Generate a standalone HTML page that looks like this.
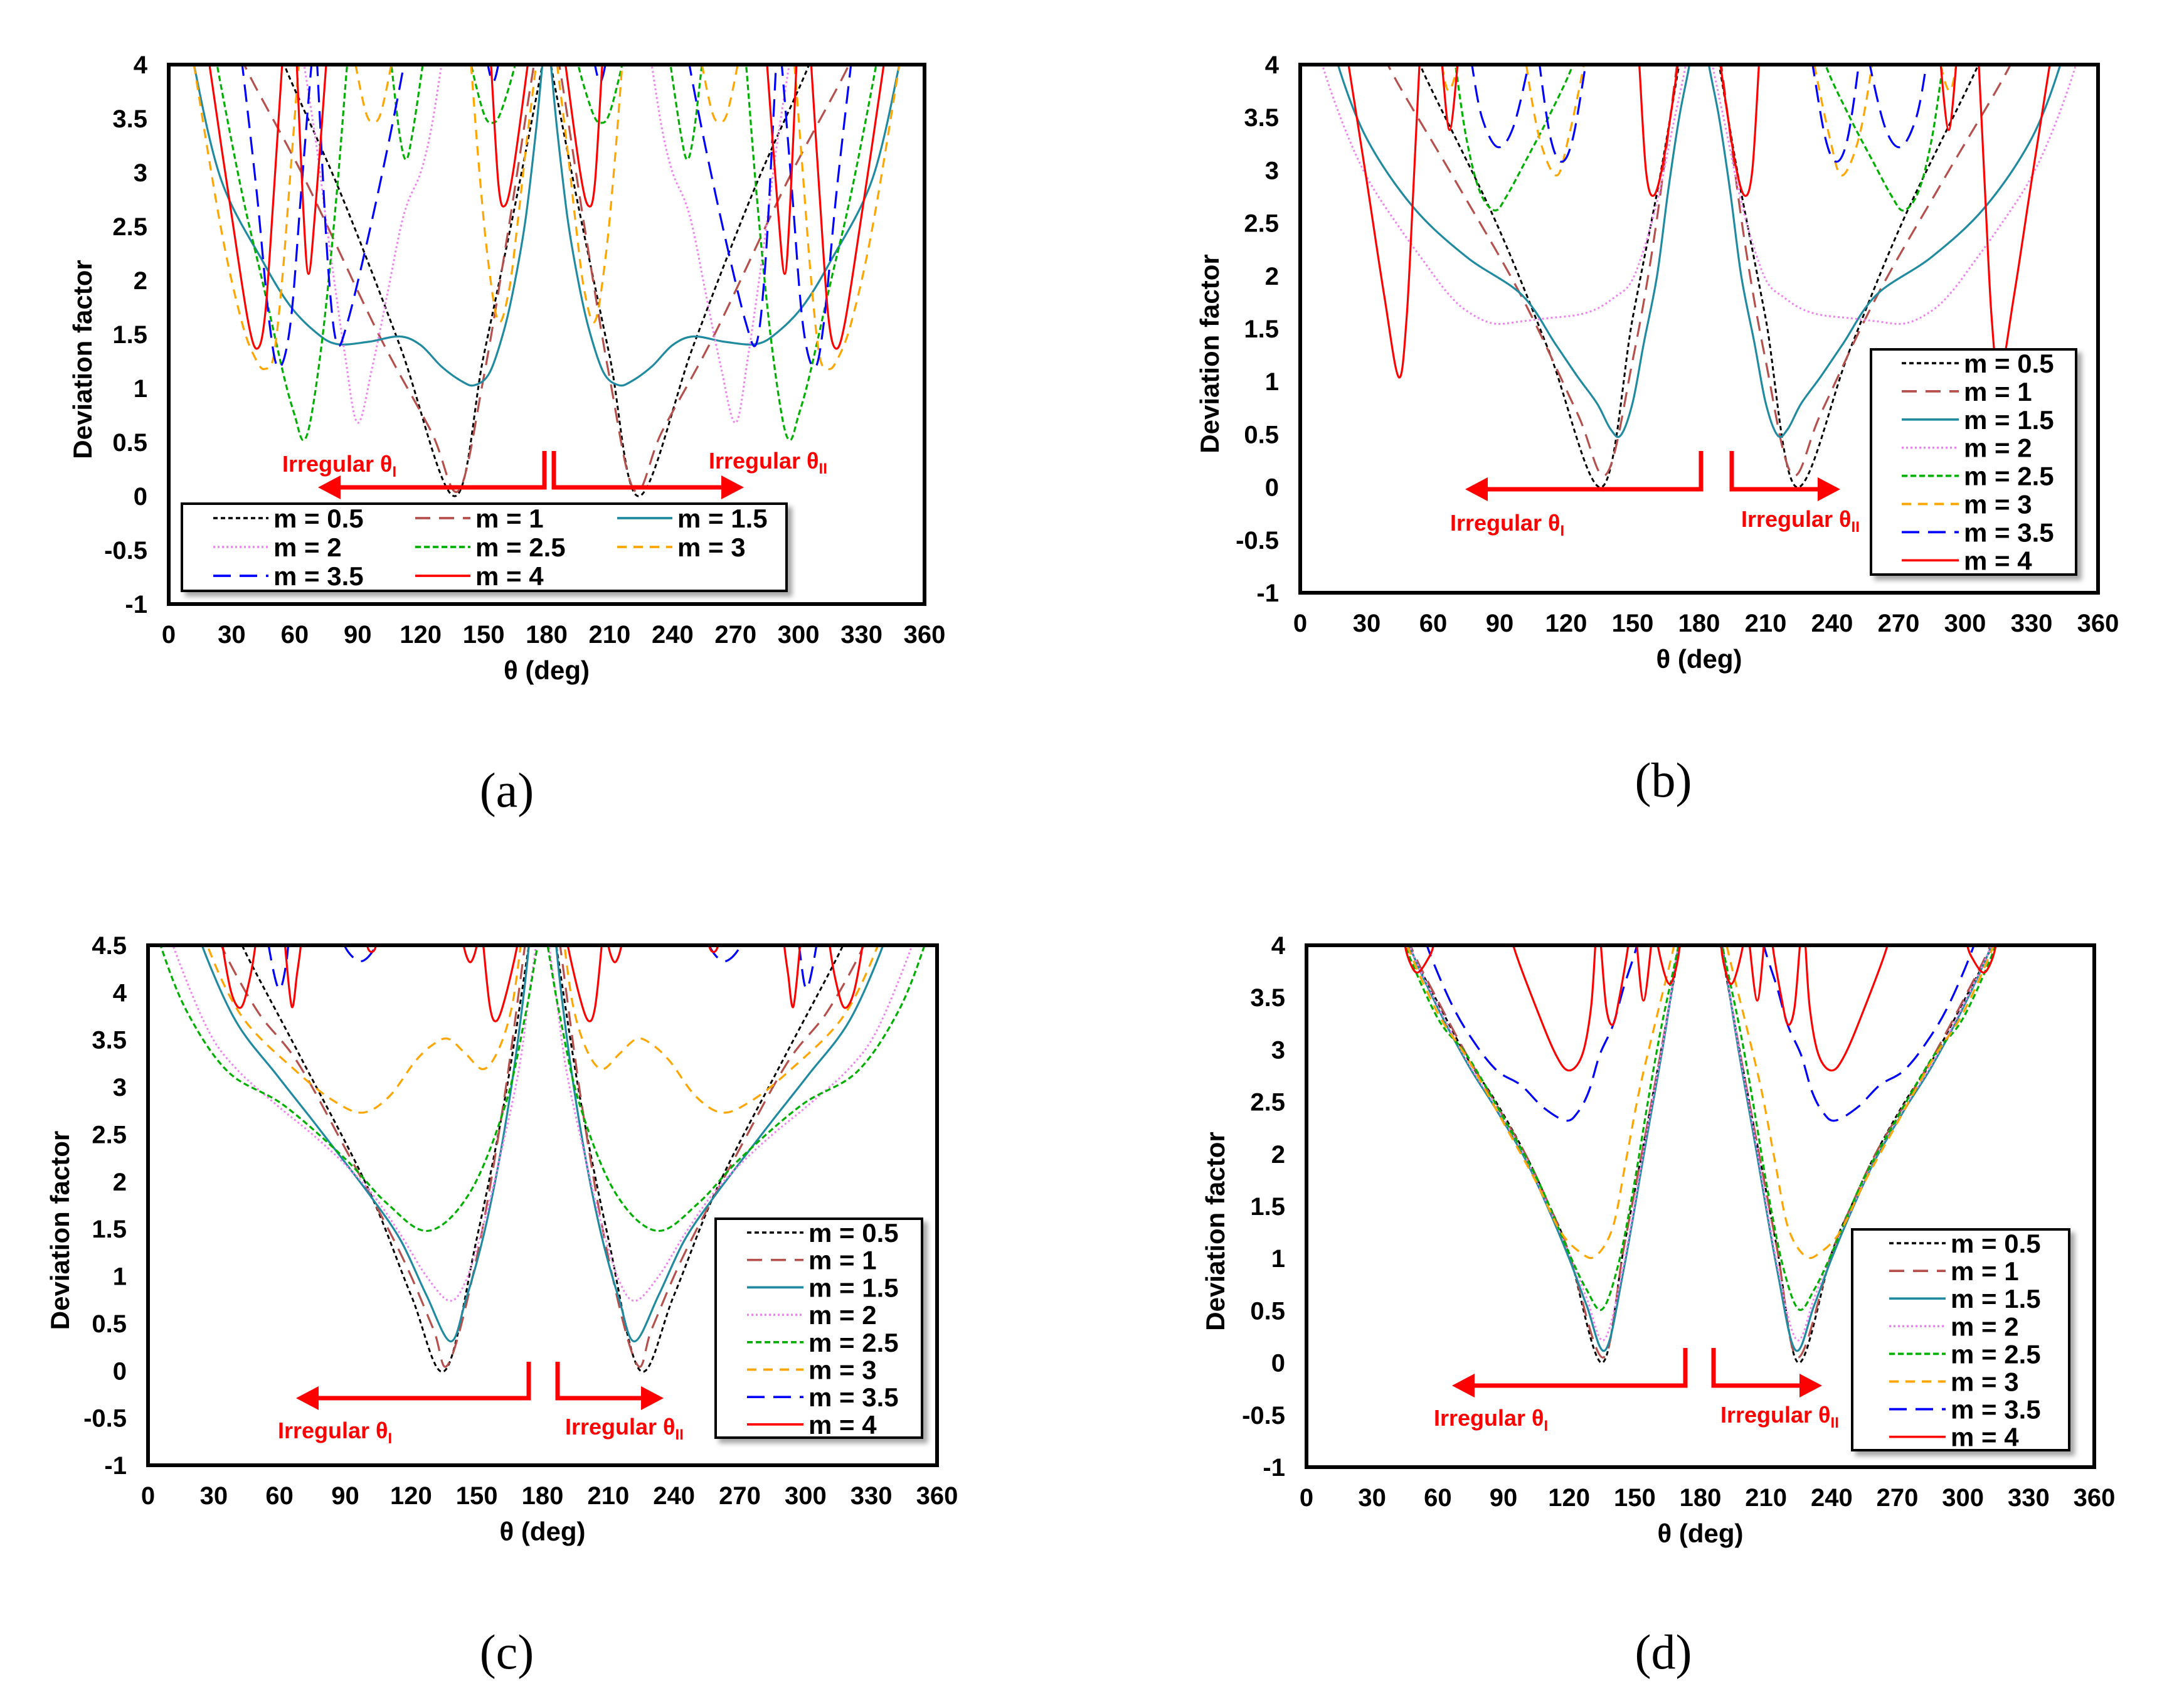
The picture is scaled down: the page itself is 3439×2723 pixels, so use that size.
<!DOCTYPE html>
<html>
<head>
<meta charset="utf-8">
<style>
  html,body{margin:0;padding:0;background:#fff;}
  svg{display:block;}
  .tick{font-family:"Liberation Sans",Arial,sans-serif;font-weight:bold;font-size:40px;fill:#000;}
  .axt{font-family:"Liberation Sans",Arial,sans-serif;font-weight:bold;font-size:42px;fill:#000;}
  .leg{font-family:"Liberation Sans",Arial,sans-serif;font-weight:bold;font-size:42px;fill:#000;}
  .irr{font-family:"Liberation Sans",Arial,sans-serif;font-weight:bold;font-size:36px;fill:#ff0000;}
  .plab{font-family:"Liberation Serif","Times New Roman",serif;font-size:78px;fill:#000;}
</style>
</head>
<body>
<svg id="fig" width="3439" height="2723" viewBox="0 0 3439 2723" xmlns="http://www.w3.org/2000/svg">
  <defs>
    <filter id="shadow" x="-5%" y="-5%" width="115%" height="120%">
      <feDropShadow dx="7" dy="7" stdDeviation="4" flood-color="#000" flood-opacity="0.35"/>
    </filter>
  </defs>
</svg>
<script>
// ---------- shared axis data ----------
const xTicks = [0,30,60,90,120,150,180,210,240,270,300,330,360];
const yTicksA = [-1,-0.5,0,0.5,1,1.5,2,2.5,3,3.5,4];
const yTicksC = [-1,-0.5,0,0.5,1,1.5,2,2.5,3,3.5,4,4.5];
const seriesNames = ["m = 0.5","m = 1","m = 1.5","m = 2","m = 2.5","m = 3","m = 3.5","m = 4"];

// ---------- panel (a) ----------
const a_m05 = [[52,4.3],[55,4],[81,2.85],[110,1.4],[136,0],[150,1.3],[165,2.7],[178,4],[180,4.3],[182,4],[195,2.7],[210,1.3],[224,0],[250,1.4],[279,2.85],[305,4],[308,4.3]];
const a_m1 = [[33,4.3],[36,4],[65,2.93],[100,1.5],[125,0.6],[138,0.05],[150,1.1],[162,2.5],[174,4],[178,4.3],null,[182,4.3],[186,4],[198,2.5],[210,1.1],[222,0.05],[235,0.6],[260,1.5],[295,2.93],[324,4],[327,4.3]];
const a_m15 = [[10,4.3],[12,4],[25,2.93],[45,2.17],[58,1.76],[70,1.52],[80,1.41],[95,1.43],[110,1.48],[120,1.4],[130,1.2],[140,1.06],[146,1.03],[153,1.15],[160,1.56],[165,2.0],[170,2.57],[175,3.4],[178,4],[180,4.3],[182,4],[185,3.4],[190,2.57],[195,2.0],[200,1.56],[207,1.15],[214,1.03],[220,1.06],[230,1.2],[240,1.4],[250,1.48],[265,1.43],[280,1.41],[290,1.52],[302,1.76],[315,2.17],[335,2.93],[348,4],[350,4.3]];
const a_m2 = [[62,4.3],[70,3.3],[76,2.4],[84,1.3],[90,0.68],[97,1.2],[104,1.86],[110,2.45],[114,2.73],[120,3.0],[125,3.4],[130,4],[133,4.3],null,[227,4.3],[230,4],[235,3.4],[240,3.0],[246,2.73],[250,2.45],[256,1.86],[263,1.2],[270,0.68],[276,1.3],[284,2.4],[290,3.3],[298,4.3]];
const a_m25 = [[21,4.3],[23,4],[35,2.8],[45,1.96],[55,1.1],[60,0.75],[64,0.52],[68,0.75],[74,1.6],[80,2.8],[85,4],[87,4.3],null,[104,4.3],[106,4],[110,3.35],[113,3.12],[116,3.35],[121,4],[123,4.3],null,[141,4.3],[144,4],[150,3.55],[154,3.46],[158,3.55],[165,4],[167,4.3],null,[193,4.3],[195,4],[202,3.55],[206,3.46],[210,3.55],[216,4],[219,4.3],null,[237,4.3],[239,4],[244,3.35],[247,3.12],[250,3.35],[254,4],[256,4.3],null,[273,4.3],[275,4],[280,2.8],[286,1.6],[292,0.75],[296,0.52],[300,0.75],[305,1.1],[315,1.96],[325,2.8],[337,4],[339,4.3]];
const a_m3 = [[10,4.3],[12,4],[25,2.47],[35,1.6],[42,1.25],[46,1.18],[50,1.3],[54,2],[58,3],[62,4],[64,4.3],null,[87,4.3],[89,4],[94,3.55],[97.5,3.47],[101,3.55],[106,4],[108,4.3],null,[143,4.3],[144,4],[148,3.0],[152,2.2],[157,1.62],[162,1.9],[166,2.5],[170,3.2],[175,4],[177,4.3],null,[183,4.3],[185,4],[190,3.2],[194,2.5],[198,1.9],[203,1.62],[208,2.2],[212,3.0],[216,4],[217,4.3],null,[252,4.3],[254,4],[259,3.55],[262.5,3.47],[266,3.55],[271,4],[273,4.3],null,[296,4.3],[298,4],[302,3],[306,2],[310,1.3],[314,1.18],[318,1.25],[325,1.6],[335,2.47],[348,4],[350,4.3]];
const a_m35 = [[33,4.3],[35,4],[42,2.8],[48,1.6],[52.5,1.19],[58,1.6],[63,2.8],[68,4],[70,4.3],null,[70,4.3],[72,3.5],[76,2.1],[80,1.42],[85,1.6],[95,2.4],[105,3.3],[112,4],[114,4.3],null,[150,4.3],[152,4],[154.5,3.84],[157,4],[159,4.3],null,[201,4.3],[203,4],[205.5,3.84],[208,4],[210,4.3],null,[246,4.3],[248,4],[255,3.3],[265,2.4],[275,1.6],[280,1.42],[284,2.1],[288,3.5],[290,4.3],null,[290,4.3],[292,4],[297,2.8],[302,1.6],[307.5,1.19],[312,1.6],[318,2.8],[325,4],[327,4.3]];
const a_m4 = [[18,4.3],[19.4,4],[30,2.6],[38,1.6],[42.4,1.37],[46,1.7],[50,2.8],[54,4],[55,4.3],null,[60,4.3],[61,4],[64,2.7],[66.6,2.06],[70,2.7],[75,4],[76,4.3],null,[152,4.3],[153.5,4],[157,2.9],[160,2.69],[164,3.0],[171,4],[173,4.3],null,[187,4.3],[189,4],[196,3.0],[200,2.69],[203,2.9],[206.5,4],[208,4.3],null,[284,4.3],[285,4],[290,2.7],[293.4,2.06],[296,2.7],[299,4],[300,4.3],null,[305,4.3],[306,4],[310,2.8],[314,1.7],[317.6,1.37],[322,1.6],[330,2.6],[340.6,4],[342,4.3]];

// ---------- panel (b) ----------
const b_m05 = [[51,4.3],[54,4],[87,2.57],[112,1.3],[136,0],[150,1.6],[162,2.9],[171,4],[174,4.3],null,[186,4.3],[189,4],[198,2.9],[210,1.6],[224,0],[248,1.3],[273,2.57],[306,4],[309,4.3]];
const b_m1 = [[37,4.3],[39.5,4],[70,2.9],[100,1.8],[125,0.7],[138,0.12],[150,1.2],[160,2.4],[170,4],[172,4.3],null,[188,4.3],[190,4],[200,2.4],[210,1.2],[222,0.12],[235,0.7],[260,1.8],[290,2.9],[320.5,4],[323,4.3]];
const b_m15 = [[15,4.3],[17,4],[30,3.3],[51,2.65],[75,2.18],[100,1.82],[115,1.36],[125,1.05],[134,0.79],[140,0.55],[144.6,0.49],[150,0.8],[155,1.36],[161,2.0],[166,2.8],[171,3.5],[175.6,4],[177,4.3],null,[183,4.3],[184.4,4],[189,3.5],[194,2.8],[199,2.0],[205,1.36],[210,0.8],[215.4,0.49],[220,0.55],[226,0.79],[235,1.05],[245,1.36],[260,1.82],[285,2.18],[309,2.65],[330,3.3],[343,4],[345,4.3]];
const b_m2 = [[8,4.3],[10,4],[20,3.4],[31,2.9],[45,2.45],[56,2.13],[66,1.85],[75,1.67],[87,1.55],[100,1.57],[112,1.6],[125,1.63],[134,1.69],[142,1.8],[149,1.93],[155,2.25],[161.6,2.75],[168,3.4],[174,4],[176,4.3],null,[184,4.3],[186,4],[192,3.4],[198.4,2.75],[205,2.25],[211,1.93],[218,1.8],[226,1.69],[235,1.63],[248,1.6],[260,1.57],[273,1.55],[285,1.67],[294,1.85],[304,2.13],[315,2.45],[329,2.9],[340,3.4],[350,4],[352,4.3]];
const b_m25 = [[68,4.3],[70,4],[75,3.3],[81,2.8],[87.7,2.62],[93,2.75],[102,3.1],[112,3.5],[123,4],[125,4.3],null,[235,4.3],[237,4],[248,3.5],[258,3.1],[267,2.75],[272.3,2.62],[279,2.8],[285,3.3],[290,4],[292,4.3]];
const b_m3 = [[63,4.3],[64,4],[67,3.75],[71,4],[72,4.3],null,[101,4.3],[102,4],[108,3.3],[115.6,2.95],[121,3.3],[128,4],[130,4.3],null,[230,4.3],[232,4],[239,3.3],[244.4,2.95],[252,3.3],[258,4],[259,4.3],null,[288,4.3],[289,4],[293,3.75],[296,4],[297,4.3]];
const b_m35 = [[76,4.3],[77.5,4],[82,3.5],[89,3.22],[96,3.4],[103,4],[105,4.3],null,[107,4.3],[108,4],[113,3.3],[118,3.08],[123,3.3],[128.8,4],[131,4.3],null,[229,4.3],[231.2,4],[237,3.3],[242,3.08],[247,3.3],[252,4],[253,4.3],null,[255,4.3],[257,4],[264,3.4],[271,3.22],[278,3.5],[282.5,4],[284,4.3]];
const b_m4 = [[20,4.3],[21.8,4],[30,2.9],[38,1.8],[44.5,1.04],[48,1.6],[51,2.8],[53.8,4],[55,4.3],null,[63,4.3],[64,4],[67.4,3.38],[71,4],[72,4.3],null,[152,4.3],[153,4],[156,3.0],[159.5,2.76],[164,3.1],[170.4,4],[172,4.3],null,[188,4.3],[189.6,4],[196,3.1],[200.5,2.76],[204,3.0],[207,4],[208,4.3],null,[288,4.3],[289,4],[292.6,3.38],[296,4],[297,4.3],null,[305,4.3],[306.2,4],[309,2.8],[312,1.6],[315.5,1.04],[322,1.8],[330,2.9],[338.2,4],[340,4.3]];

// ---------- panel (c) ----------
const c_m05 = [[40,4.8],[42.9,4.5],[70,3.3],[100,1.95],[120,0.8],[135.4,0],[150,1.4],[163,2.9],[173.8,4.5],[176,4.8],null,[184,4.8],[186.2,4.5],[197,2.9],[210,1.4],[224.6,0],[240,0.8],[260,1.95],[290,3.3],[317.1,4.5],[320,4.8]];
const c_m1 = [[31,4.8],[33.4,4.5],[50,3.8],[68,3.27],[90,2.35],[115,1.25],[130,0.45],[137,0.07],[150,1.2],[162,2.8],[172,4.5],[174,4.8],null,[186,4.8],[188,4.5],[198,2.8],[210,1.2],[223,0.07],[230,0.45],[245,1.25],[270,2.35],[292,3.27],[310,3.8],[326.6,4.5],[329,4.8]];
const c_m15 = [[22,4.8],[24.6,4.5],[40,3.7],[58.7,3.13],[75,2.65],[90,2.2],[103,1.8],[115.5,1.37],[127,0.8],[138,0.31],[145,0.75],[153,1.42],[160,2.2],[166,3.04],[171,3.9],[173.8,4.5],[175,4.8],null,[185,4.8],[186.2,4.5],[189,3.9],[194,3.04],[200,2.2],[207,1.42],[215,0.75],[222,0.31],[233,0.8],[244.5,1.37],[257,1.8],[270,2.2],[285,2.65],[301.3,3.13],[320,3.7],[335.4,4.5],[338,4.8]];
const c_m2 = [[9,4.8],[11.4,4.5],[27,3.62],[40,3.2],[58.7,2.81],[75,2.5],[90,2.18],[103,1.85],[115.5,1.43],[127,1.0],[137.6,0.74],[145,0.95],[153,1.54],[160,2.2],[169,3.16],[174,4.0],[177,4.5],[178,4.8],null,[182,4.8],[183,4.5],[186,4.0],[191,3.16],[200,2.2],[207,1.54],[215,0.95],[222.4,0.74],[233,1.0],[244.5,1.43],[257,1.85],[270,2.18],[285,2.5],[301.3,2.81],[320,3.2],[333,3.62],[348.6,4.5],[351,4.8]];
const c_m25 = [[3,4.8],[5.7,4.5],[17.7,3.8],[36.6,3.16],[61.8,2.81],[90,2.24],[109,1.77],[128,1.48],[147,1.89],[163,2.81],[172,3.74],[177,4.4],[180,4.8],[183,4.4],[188,3.74],[197,2.81],[213,1.89],[232,1.48],[251,1.77],[270,2.24],[298.2,2.81],[323.4,3.16],[342.3,3.8],[354.3,4.5],[357,4.8]];
const c_m3 = [[25,4.8],[27,4.5],[43,3.74],[68,3.16],[85,2.85],[98,2.73],[110,2.9],[121.8,3.27],[130,3.45],[137,3.51],[145,3.35],[153,3.19],[160,3.4],[166,3.85],[170,4.5],[171,4.8],null,[189,4.8],[190,4.5],[194,3.85],[200,3.4],[207,3.19],[215,3.35],[223,3.51],[230,3.45],[238.2,3.27],[250,2.9],[262,2.73],[275,2.85],[292,3.16],[317,3.74],[333,4.5],[335,4.8]];
const c_m35 = [[54,4.8],[55,4.5],[59.6,4.04],[63,4.3],[65,4.8],null,[88,4.8],[89.6,4.5],[97,4.33],[104,4.5],[106,4.8],null,[254,4.8],[256,4.5],[263,4.33],[270.4,4.5],[272,4.8],null,[295,4.8],[297,4.5],[300.4,4.04],[305,4.5],[306,4.8]];
const c_m4 = [[33,4.8],[34,4.5],[38,4.0],[42.3,3.84],[46,4.1],[49,4.5],[50,4.8],null,[61.5,4.8],[62.5,4.5],[65.6,3.85],[68,4.2],[69.7,4.5],[70.5,4.8],null,[99,4.8],[100,4.5],[102,4.43],[104,4.5],[105,4.8],null,[143,4.8],[144,4.5],[147,4.32],[150,4.5],[151,4.8],null,[152,4.8],[153,4.5],[156,3.85],[159,3.7],[163,3.95],[168.5,4.5],[170,4.8],null,[190,4.8],[191.5,4.5],[197,3.95],[201,3.7],[204,3.85],[207,4.5],[208,4.8],null,[209,4.8],[210,4.5],[213,4.32],[216,4.5],[217,4.8],null,[255,4.8],[256,4.5],[258,4.43],[260,4.5],[261,4.8],null,[289.5,4.8],[290.3,4.5],[292,4.2],[294.4,3.85],[297.5,4.5],[298.5,4.8],null,[310,4.8],[311,4.5],[314,4.1],[317.7,3.84],[322,4.0],[326,4.5],[327,4.8]];

// ---------- panel (d) ----------
const d_m05 = [[44,4.3],[46.7,4],[60,3.45],[74,2.9],[86,2.52],[100,2.0],[110,1.55],[120,1.05],[135,0],[145,1.1],[155,2.2],[163,3.1],[170.7,4],[173,4.3],null,[187,4.3],[189.3,4],[197,3.1],[205,2.2],[215,1.1],[225,0],[240,1.05],[250,1.55],[260,2.0],[274,2.52],[286,2.9],[300,3.45],[313.3,4],[316,4.3]];
const d_m1 = [[45,4.3],[47.5,4],[60,3.47],[74,2.92],[86,2.5],[100,2.0],[110,1.55],[120,1.05],[135.5,0.05],[145,1.1],[155,2.2],[163,3.1],[170.5,4],[173,4.3],null,[187,4.3],[189.5,4],[197,3.1],[205,2.2],[215,1.1],[224.5,0.05],[240,1.05],[250,1.55],[260,2.0],[274,2.5],[286,2.92],[300,3.47],[312.5,4],[315,4.3]];
const d_m15 = [[44,4.3],[47,4],[60,3.4],[74,2.85],[86,2.45],[100,1.95],[110,1.5],[120,1.0],[128,0.55],[136.5,0.12],[145,0.9],[155,2.1],[163,3.05],[170,4],[172,4.3],null,[188,4.3],[190,4],[197,3.05],[205,2.1],[215,0.9],[223.5,0.12],[232,0.55],[240,1.0],[250,1.5],[260,1.95],[274,2.45],[286,2.85],[300,3.4],[313,4],[316,4.3]];
const d_m2 = [[44,4.3],[47,4],[60,3.42],[74,2.87],[86,2.47],[100,1.97],[110,1.52],[120,1.05],[128,0.62],[136,0.22],[145,0.95],[155,2.15],[163,3.08],[170,4],[172,4.3],null,[188,4.3],[190,4],[197,3.08],[205,2.15],[215,0.95],[224,0.22],[232,0.62],[240,1.05],[250,1.52],[260,1.97],[274,2.47],[286,2.87],[300,3.42],[313,4],[316,4.3]];
const d_m25 = [[42,4.3],[45,4],[60,3.3],[73.5,2.94],[90,2.35],[105,1.78],[115,1.3],[121,1.0],[128,0.7],[135,0.51],[142,0.9],[149,1.62],[156,2.5],[162,3.2],[170,4],[172,4.3],null,[188,4.3],[190,4],[198,3.2],[204,2.5],[211,1.62],[218,0.9],[225,0.51],[232,0.7],[239,1.0],[245,1.3],[255,1.78],[270,2.35],[286.5,2.94],[300,3.3],[315,4],[318,4.3]];
const d_m3 = [[43,4.3],[46,4],[60,3.35],[74,2.9],[90,2.3],[105,1.73],[116,1.26],[125,1.06],[132,1.02],[140,1.3],[146,1.94],[152,2.6],[158.7,3.2],[168,4],[170,4.3],null,[190,4.3],[192,4],[201.3,3.2],[208,2.6],[214,1.94],[220,1.3],[228,1.02],[235,1.06],[244,1.26],[255,1.73],[270,2.3],[286,2.9],[300,3.35],[314,4],[317,4.3]];
const d_m35 = [[52,4.3],[55,4],[66,3.45],[76,3.09],[87,2.8],[98,2.66],[108,2.45],[118.5,2.32],[124,2.4],[129,2.6],[134,2.95],[140,3.23],[145,3.6],[151,4],[153,4.3],null,[207,4.3],[209,4],[215,3.6],[220,3.23],[226,2.95],[231,2.6],[236,2.4],[241.5,2.32],[252,2.45],[262,2.66],[273,2.8],[284,3.09],[294,3.45],[305,4],[308,4.3]];
const d_m4 = [[44,4.3],[45,4],[48,3.8],[51,3.74],[55,3.85],[58,4],[59,4.3],null,[93,4.3],[94.5,4],[105,3.4],[114,2.95],[120,2.8],[126,2.95],[130,3.4],[132,4],[133,4.3],null,[133,4.3],[134.5,4],[137,3.4],[140,3.24],[143,3.5],[147,4],[148,4.3],null,[150,4.3],[151,4],[154,3.47],[157.5,4],[158.5,4.3],null,[159.5,4.3],[160.5,4],[165.7,3.63],[170,3.9],[171,4.3],null,[189,4.3],[190,3.9],[194.3,3.63],[199.5,4],[200.5,4.3],null,[201.5,4.3],[202.5,4],[206,3.47],[209,4],[210,4.3],null,[212,4.3],[213,4],[217,3.5],[220,3.24],[223,3.4],[225.5,4],[227,4.3],null,[227,4.3],[228,4],[230,3.4],[234,2.95],[240,2.8],[246,2.95],[255,3.4],[265.5,4],[267,4.3],null,[301,4.3],[302,4],[305,3.85],[309,3.74],[312,3.8],[315,4],[316,4.3]];

// ---------- styling (not data) ----------
const styles = [
  {c:"#000000", d:"7 5", w:3},
  {c:"#b5504c", d:"24 14", w:3.2},
  {c:"#1f8aa0", d:"", w:3.2},
  {c:"#ee82ee", d:"3 4", w:3},
  {c:"#00b000", d:"9 5", w:3.2},
  {c:"#ffa500", d:"15 11", w:3.2},
  {c:"#0000ff", d:"28 14", w:3.2},
  {c:"#ff0000", d:"", w:3.2}
];

const NS = "http://www.w3.org/2000/svg";
const svg = document.getElementById('fig');
function mk(tag, attrs, parent){
  const e = document.createElementNS(NS, tag);
  for (const k in attrs) e.setAttribute(k, attrs[k]);
  (parent||svg).appendChild(e);
  return e;
}

// Catmull-Rom smoothing of a list of pixel points
function smoothPath(pts){
  if (pts.length < 2) return "";
  let d = "M" + pts[0][0].toFixed(1) + "," + pts[0][1].toFixed(1);
  for (let i = 0; i < pts.length - 1; i++){
    const p0 = pts[i-1] || pts[i], p1 = pts[i], p2 = pts[i+1], p3 = pts[i+2] || p2;
    const t = 0.5/3;
    const c1x = p1[0] + (p2[0]-p0[0])*t, c1y = p1[1] + (p2[1]-p0[1])*t;
    const c2x = p2[0] - (p3[0]-p1[0])*t, c2y = p2[1] - (p3[1]-p1[1])*t;
    d += "C" + c1x.toFixed(1)+","+c1y.toFixed(1)+" "+c2x.toFixed(1)+","+c2y.toFixed(1)+" "+p2[0].toFixed(1)+","+p2[1].toFixed(1);
  }
  return d;
}

function drawPanel(p){
  const g = mk('g', {});
  
  
  const xs = v => p.L + (v/360)*(p.R - p.L);
  const ys = v => p.B - (v - p.ymin)/(p.ymax - p.ymin)*(p.B - p.T);
  const cp = mk('clipPath', {id:'clip-'+p.id}, g);
  mk('rect', {x:p.L, y:p.T, width:p.R-p.L, height:p.B-p.T}, cp);
  const sg = mk('g', {'clip-path':'url(#clip-'+p.id+')'}, g);
  p.series.forEach((s, i) => {
    let d = ""; let seg = [];
    s.forEach(pt => {
      if (pt === null) { d += smoothPath(seg); seg = []; return; }
      seg.push([xs(pt[0]), ys(pt[1])]);
    });
    d += smoothPath(seg);
    const st = styles[i];
    const path = mk('path', {d:d, fill:'none', stroke:st.c, 'stroke-width':st.w, 'stroke-dasharray':st.d, 'stroke-linejoin':'round'}, sg);
    
    
  });
  const fr = mk('rect', {x:p.L, y:p.T, width:p.R-p.L, height:p.B-p.T, fill:'none', stroke:'#000', 'stroke-width':6}, g);
  
  
  xTicks.forEach(t => {
    const tx = mk('text', {x:xs(t), y:p.B+62, 'text-anchor':'middle', class:'tick'}, g);
    tx.textContent = t;
    
    
  });
  p.yTicks.forEach(t => {
    const ty = mk('text', {x:p.L-34, y:ys(t)+14, 'text-anchor':'end', class:'tick'}, g);
    ty.textContent = t;
    
    
  });
  const xt = mk('text', {x:(p.L+p.R)/2, y:p.B+120, 'text-anchor':'middle', class:'axt'}, g);
  xt.textContent = "θ (deg)";
  
  
  const yt = mk('text', {x:0, y:0, 'text-anchor':'middle', class:'axt', transform:'translate('+(p.yLabX)+','+((p.T+p.B)/2+40)+') rotate(-90)'}, g);
  yt.textContent = "Deviation factor";
  
  
  const ag = mk('g', {}, g);
  
  
  const A = p.arrow;
  mk('polyline', {points: A.lv+','+A.top+' '+A.lv+','+A.y+' '+(A.lt+34)+','+A.y, fill:'none', stroke:'#ff0000', 'stroke-width':7}, ag);
  mk('polygon', {points: A.lt+','+A.y+' '+(A.lt+36)+','+(A.y-19)+' '+(A.lt+36)+','+(A.y+19), fill:'#ff0000'}, ag);
  mk('polyline', {points: A.rv+','+A.top+' '+A.rv+','+A.y+' '+(A.rt-34)+','+A.y, fill:'none', stroke:'#ff0000', 'stroke-width':7}, ag);
  mk('polygon', {points: A.rt+','+A.y+' '+(A.rt-36)+','+(A.y-19)+' '+(A.rt-36)+','+(A.y+19), fill:'#ff0000'}, ag);
  const t1 = mk('text', {x:A.t1x, y:A.t1y, class:'irr'}, ag);
  t1.innerHTML = 'Irregular θ<tspan font-size="24" dy="8">I</tspan>';
  
  
  const t2 = mk('text', {x:A.t2x, y:A.t2y, class:'irr'}, ag);
  t2.innerHTML = 'Irregular θ<tspan font-size="24" dy="8">II</tspan>';
  
  
  const lg = mk('g', {}, g);
  
  
  const Lg = p.legend;
  mk('rect', {x:Lg.x, y:Lg.y, width:Lg.w, height:Lg.h, fill:'#fff', stroke:'#000', 'stroke-width':4, filter:'url(#shadow)'}, lg);
  seriesNames.forEach((n, i) => {
    const col = Lg.cols ? i % Lg.cols : 0;
    const row = Lg.cols ? Math.floor(i / Lg.cols) : i;
    const lx = Lg.lx + col*Lg.colStep;
    const ly = Lg.ly + row*Lg.rowStep;
    const st = styles[i];
    const ln = mk('line', {x1:lx, y1:ly, x2:lx+Lg.len, y2:ly, stroke:st.c, 'stroke-width':st.w+0.5, 'stroke-dasharray':st.d}, lg);
    
    
    const tx = mk('text', {x:lx+Lg.len+8, y:ly+15, class:'leg'}, lg);
    tx.textContent = n;
    
    
  });
  const pl = mk('text', {x:p.labX, y:p.labY, 'text-anchor':'middle', class:'plab'}, g);
  pl.textContent = '(' + p.id + ')';
  
  
}

drawPanel({id:'a', L:269, R:1474, T:103, B:963, ymin:-1, ymax:4, yTicks:yTicksA, yLabX:146,
  series:[a_m05,a_m1,a_m15,a_m2,a_m25,a_m3,a_m35,a_m4],
  arrow:{lv:868, rv:883, top:719, y:777, lt:507, rt:1186, t1x:450, t1y:752, t2x:1130, t2y:747},
  legend:{x:290, y:803, w:964, h:139, cols:3, lx:340, ly:826, colStep:322, rowStep:46, len:88},
  labX:808, labY:1286});
drawPanel({id:'b', L:2073, R:3345, T:103, B:945, ymin:-1, ymax:4, yTicks:yTicksA, yLabX:1943,
  series:[b_m05,b_m1,b_m15,b_m2,b_m25,b_m3,b_m35,b_m4],
  arrow:{lv:2712, rv:2761, top:719, y:780, lt:2336, rt:2934, t1x:2312, t1y:846, t2x:2776, t2y:840},
  legend:{x:2983, y:557, w:327, h:359, cols:0, lx:3032, ly:579, colStep:0, rowStep:44.9, len:91},
  labX:2652, labY:1270});
drawPanel({id:'c', L:236, R:1494, T:1507, B:2336, ymin:-1, ymax:4.5, yTicks:yTicksC, yLabX:110,
  series:[c_m05,c_m1,c_m15,c_m2,c_m25,c_m3,c_m35,c_m4],
  arrow:{lv:843, rv:889, top:2171, y:2229, lt:472, rt:1058, t1x:443, t1y:2293, t2x:901, t2y:2287},
  legend:{x:1141, y:1943, w:329, h:349, cols:0, lx:1191, ly:1965, colStep:0, rowStep:43.7, len:90},
  labX:808, labY:2660});
drawPanel({id:'d', L:2083, R:3339, T:1507, B:2339, ymin:-1, ymax:4, yTicks:yTicksA, yLabX:1952,
  series:[d_m05,d_m1,d_m15,d_m2,d_m25,d_m3,d_m35,d_m4],
  arrow:{lv:2687, rv:2732, top:2149, y:2209, lt:2315, rt:2905, t1x:2286, t1y:2273, t2x:2743, t2y:2268},
  legend:{x:2953, y:1960, w:346, h:352, cols:0, lx:3012, ly:1982, colStep:0, rowStep:44.1, len:90},
  labX:2652, labY:2660});
</script>
</body>
</html>
